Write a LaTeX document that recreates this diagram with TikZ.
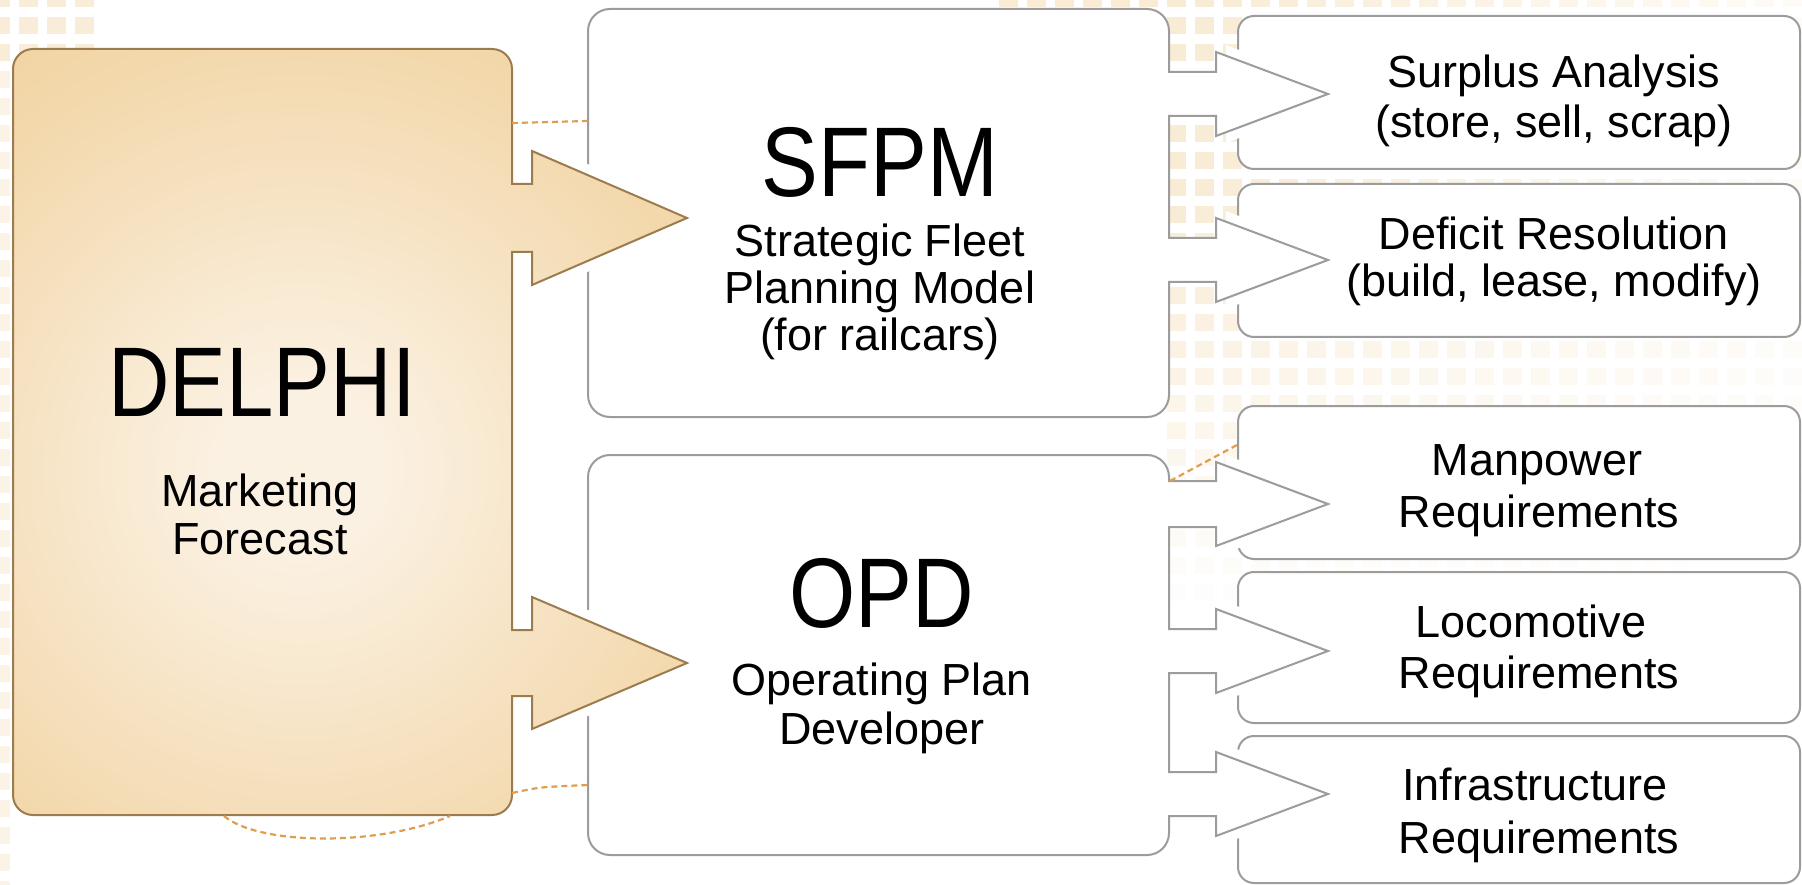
\documentclass[tikz,border=0pt]{standalone}
\usepackage{fontspec}
\setmainfont{Liberation Sans}
\newfontfamily\titlefont{Liberation Sans}[FakeStretch=0.86]
\definecolor{dlight}{HTML}{FBF1E2}
\definecolor{dmid}{HTML}{F3D9AE}
\definecolor{dtan}{HTML}{EECB90}
\definecolor{dborder}{HTML}{9C7C4E}
\definecolor{boxgray}{HTML}{9C9C9C}
\definecolor{dashorange}{HTML}{DE9E4C}
\definecolor{sqc}{HTML}{F5DFBA}
\pgfdeclareradialshading{delphishade}{\pgfpoint{0bp}{0bp}}{color(0bp)=(dlight); color(4bp)=(dlight); color(20bp)=(dmid); color(34bp)=(dtan); color(50bp)=(dtan)}
\newcommand{\dlphpath}{(13,69) arc[start angle=180,end angle=270,radius=20] -- (492,49) arc[start angle=270,end angle=360,radius=20] -- (512,184) -- (532,184) -- (532,151) -- (687,218) -- (532,285) -- (532,252) -- (512,252) -- (512,630) -- (532,630) -- (532,597) -- (687,663) -- (532,729) -- (532,696) -- (512,696) -- (512,795) arc[start angle=0,end angle=90,radius=20] -- (33,815) arc[start angle=90,end angle=180,radius=20] -- cycle}
\newcommand{\sfpmpath}{(588,31) arc[start angle=180,end angle=270,radius=22] -- (1147,9) arc[start angle=270,end angle=360,radius=22] -- (1169,72) -- (1216,72) -- (1216,52) -- (1328,94) -- (1216,136) -- (1216,116) -- (1169,116) -- (1169,238) -- (1216,238) -- (1216,218) -- (1328,260) -- (1216,302) -- (1216,282) -- (1169,282) -- (1169,395) arc[start angle=0,end angle=90,radius=22] -- (610,417) arc[start angle=90,end angle=180,radius=22] -- cycle}
\newcommand{\opdpath}{(588,477) arc[start angle=180,end angle=270,radius=22] -- (1147,455) arc[start angle=270,end angle=360,radius=22] -- (1169,481) -- (1216,481) -- (1216,462) -- (1328,504) -- (1216,546) -- (1216,527) -- (1169,527) -- (1169,629) -- (1216,629) -- (1216,609) -- (1328,651) -- (1216,693) -- (1216,673) -- (1169,673) -- (1169,772) -- (1216,772) -- (1216,752) -- (1328,794) -- (1216,836) -- (1216,816) -- (1169,816) -- (1169,833) arc[start angle=0,end angle=90,radius=22] -- (610,855) arc[start angle=90,end angle=180,radius=22] -- cycle}
\begin{document}
\begin{tikzpicture}[x=1pt,y=-1pt,
  rbox/.style={draw=boxgray, line width=2pt, fill=white, rounded corners=16pt, inner sep=0pt, anchor=north west},
  outl/.style={draw=boxgray, line width=2pt, fill=white, line join=miter},
  halo/.style={draw=white, line width=20pt},
  dashline/.style={draw=dashorange, line width=2.2pt, dash pattern=on 6pt off 4pt},
  ttl/.style={font=\titlefont\fontsize{99}{99}\selectfont, anchor=base, inner sep=0pt},
  sub/.style={font=\fontsize{45}{49}\selectfont, anchor=base, inner sep=0pt}]
\useasboundingbox (0,0) rectangle (1802,885);
\fill[white] (0,0) rectangle (1802,885);
% background squares
\foreach \k in {-1,0,1,2}{\foreach \j in {-1,0,1}{
  \fill[sqc!55!white] ({19+28*\k},{17+27*\j}) rectangle ++(19,17);}}
\foreach \j in {2,...,32}{
  \fill[sqc!38!white] (-9,{17+27*\j}) rectangle ++(19,17);}
\foreach \k in {35,...,64}{
  \foreach \j in {-1,...,24}{
    \pgfmathsetmacro\sx{19+28*\k}
    \pgfmathsetmacro\sy{17+27*\j}
    \pgfmathsetmacro\pp{max(0,62*(1-max(0,\sx-1150)/800)*(1-max(0,\sy-200)/420))}
    \pgfmathtruncatemacro\ok{((\j<1) || (\k>40)) && (\pp>3)}
    \ifnum\ok=1 \fill[sqc!\pp!white] (\sx,\sy) rectangle ++(19,17); \fi
  }}
% right boxes
\node[rbox, minimum width=562pt, minimum height=153pt] (surplus) at (1237,15) {};
\node[rbox, minimum width=562pt, minimum height=153pt] (deficit) at (1237,183) {};
\node[rbox, minimum width=562pt, minimum height=153pt] (manpower) at (1237,405) {};
\node[rbox, minimum width=562pt, minimum height=151pt] (loco) at (1237,571) {};
\node[rbox, minimum width=562pt, minimum height=147pt] (infra) at (1237,735) {};
% halos of outlined arrow heads over right boxes
\begin{scope}
\clip (1226,0) rectangle (1252,885);
\draw[halo] (1216,52) -- (1328,94) -- (1216,136);
\draw[halo] (1216,218) -- (1328,260) -- (1216,302);
\draw[halo] (1216,462) -- (1328,504) -- (1216,546);
\draw[halo] (1216,609) -- (1328,651) -- (1216,693);
\draw[halo] (1216,752) -- (1328,794) -- (1216,836);
\end{scope}
% SFPM and OPD shapes
\path[outl] \sfpmpath;
\path[outl] \opdpath;
% halos of DELPHI arrow heads
\begin{scope}
\clip (576,0) rectangle (602,885);
\draw[halo] (532,151) -- (687,218) -- (532,285);
\draw[halo] (532,597) -- (687,663) -- (532,729);
\end{scope}
% DELPHI shape
\begin{scope}
\clip \dlphpath;
\shade[shading=delphishade] (300,470) circle[radius=520];
\end{scope}
\draw[dborder, line width=2pt, line join=miter] \dlphpath;
% dashed connectors
\coordinate (da1) at (512,123);
\coordinate (db1) at (588,121);
\coordinate (da2) at (512,793);
\coordinate (db2) at (588,785);
\coordinate (da3) at (224,816);
\coordinate (db3) at (450,816);
\coordinate (da4) at (1170,481);
\coordinate (db4) at (1237,445);
\draw[dashline] (da1) -- (db1);
\draw[dashline] (da2) .. controls (540,787) .. (db2);
\draw[dashline] (da3) .. controls (260,846) and (380,846) .. (db3);
\draw[dashline] (da4) -- (db4);
% texts
\node[ttl] (delphiT) at (262,416) {DELPHI};
\node[sub] (delphiS1) at (260,506) {Marketing};
\node[sub] (delphiS2) at (260,554) {Forecast};
\node[ttl] (sfpmT) at (880,197) {SFPM};
\node[sub] (sfpmS1) at (880,257) {Strategic Fleet};
\node[sub] (sfpmS2) at (880,304) {Planning Model};
\node[sub] (sfpmS3) at (880,351) {(for railcars)};
\node[ttl] (opdT) at (882,627) {OPD};
\node[sub] (opdS1) at (882,695) {Operating Plan};
\node[sub] (opdS2) at (882,744) {Developer};
\node[sub] (surplusA) at (1554,88) {Surplus Analysis};
\node[sub] (surplusB) at (1554,138) {(store, sell, scrap)};
\node[sub] (deficitA) at (1554,250) {Deficit Resolution};
\node[sub] (deficitB) at (1554,297) {(build, lease, modify)};
\node[sub] (manA) at (1537,475) {Manpower};
\node[sub] (manB) at (1539,527) {Requirements};
\node[sub] (locoA) at (1531,637) {Locomotive};
\node[sub] (locoB) at (1539,688) {Requirements};
\node[sub] (infraA) at (1535,800) {Infrastructure};
\node[sub] (infraB) at (1539,853) {Requirements};
\end{tikzpicture}
\end{document}
